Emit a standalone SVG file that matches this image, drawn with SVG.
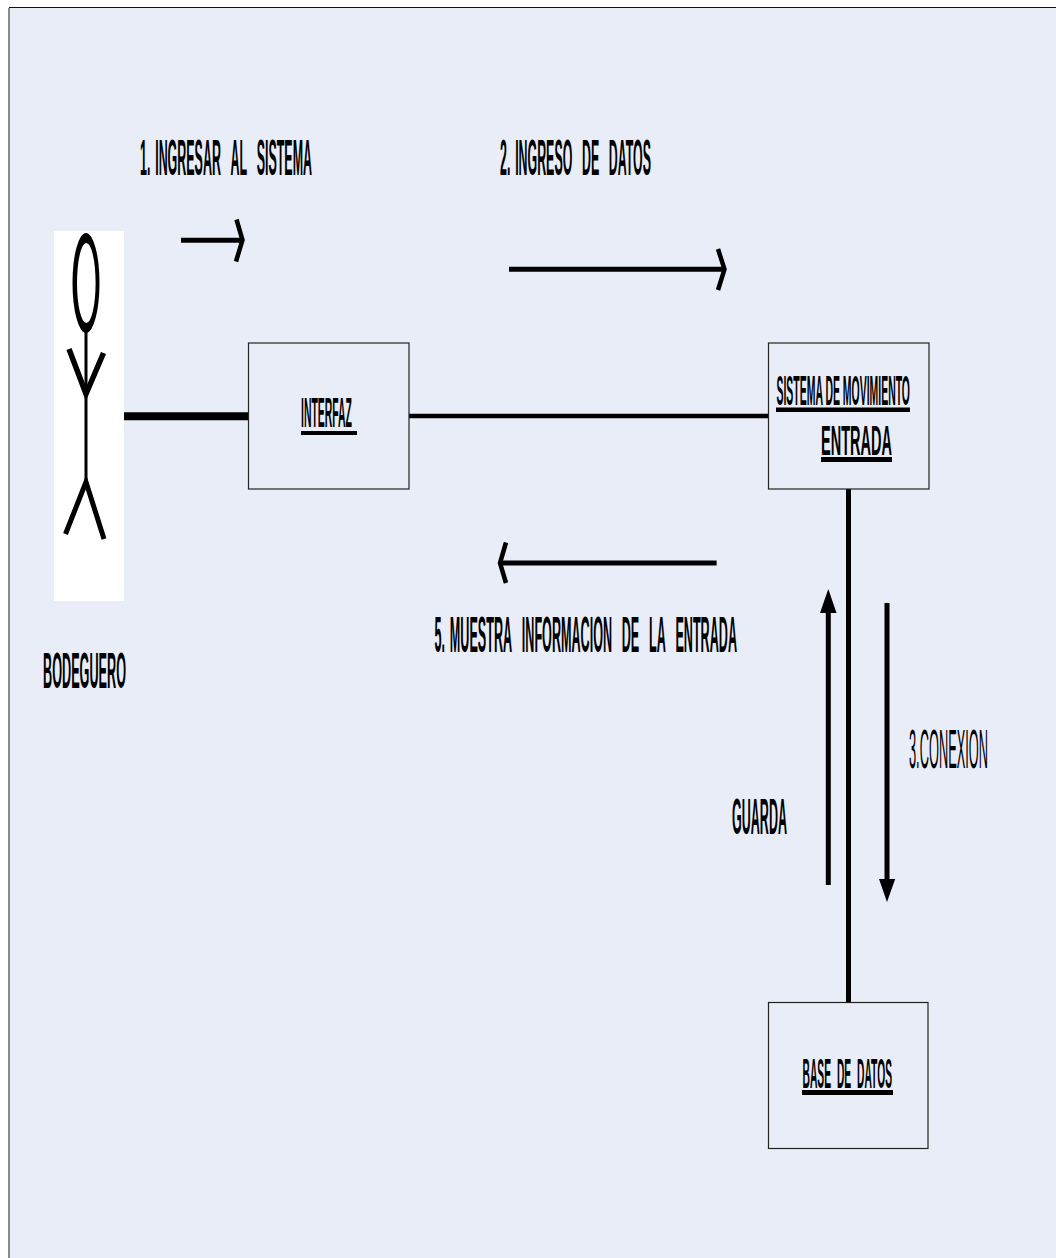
<svg xmlns="http://www.w3.org/2000/svg" width="1056" height="1258" viewBox="0 0 1056 1258">
<style>
text{font-family:"Liberation Sans",Arial,sans-serif;font-weight:700;fill:#000;white-space:pre}
.gap{word-spacing:1.4px}
.box{fill:#e8edf8;stroke:#222;stroke-width:1.2}
.ln{stroke:#000;fill:none}
.chev{stroke:#000;fill:none;stroke-width:4.5;stroke-linejoin:miter}
</style>
<rect x="0" y="0" width="1056" height="1258" fill="#fff"/>
<path d="M9 1258V7.5H1056V1258Z" fill="#e8edf8"/>
<path d="M9 1258V8" stroke="#666" stroke-width="1.5" fill="none"/>
<path d="M9 7.5H1056" stroke="#111" stroke-width="1" fill="none"/>
<g id="connectors">
<path class="ln" stroke-width="8" d="M124 416.3H249"/>
<path class="ln" stroke-width="4.6" d="M409 416H769"/>
<path class="ln" stroke-width="5" d="M848.5 489V1002"/>
<path class="ln" stroke-width="5" d="M181 240.3H241"/>
<path class="chev" d="M236.500 219.500L242.500 240L236 261.500"/>
<path class="ln" stroke-width="5" d="M509 269.300H724"/>
<path class="chev" d="M718 249L724.500 269.300L718 290"/>
<path class="ln" stroke-width="5" d="M716.600 563H501"/>
<path class="chev" d="M506 542.500L500 563L506 583"/>
<path class="ln" stroke-width="5" d="M828.300 885V610"/>
<path fill="#000" d="M828.300 589L836.500 613H820Z"/>
<path class="ln" stroke-width="5" d="M887 603V882"/>
<path fill="#000" d="M887 902L879 879H895.200Z"/>
</g>
<g id="actor">
<rect x="54" y="231" width="70" height="370" fill="#fff"/>
<path fill="#000" fill-rule="evenodd" d="M72.500 283A13.500 50 0 1 1 99.500 283A13.500 50 0 1 1 72.500 283ZM77 283A9.300 40 0 1 0 95.600 283A9.300 40 0 1 0 77 283Z"/>
<path class="ln" stroke-width="3" d="M86 330V482"/>
<path class="ln" stroke-width="5.500" d="M69 349L86 394L103.500 353"/>
<path class="ln" stroke-width="5" d="M65.500 534L86 482L104 539"/>
</g>
<g id="bodeguero"><text font-size="12.550" transform="translate(43 688) scale(1 3.98)" textLength="83" lengthAdjust="spacingAndGlyphs">BODEGUERO</text></g>
<g id="interfaz">
<rect class="box" x="248.500" y="343" width="160.500" height="146"/>
<text font-size="10.300" transform="translate(301 427) scale(1 4.08)" textLength="51" lengthAdjust="spacingAndGlyphs">INTERFAZ</text>
<rect x="301" y="431" width="56" height="4"/>
</g>
<g id="sistema">
<rect class="box" x="768.500" y="343" width="160.500" height="146"/>
<text font-size="10.180" transform="translate(776.500 405) scale(1 4.13)" textLength="133.500" lengthAdjust="spacingAndGlyphs">SISTEMA DE MOVIMIENTO</text>
<rect x="776" y="407.500" width="134" height="4.500"/>
<text font-size="14.500" transform="translate(821 455) scale(1 2.9)" textLength="71" lengthAdjust="spacingAndGlyphs">ENTRADA</text>
<rect x="821" y="457" width="71" height="5"/>
</g>
<g id="base">
<rect class="box" x="768.500" y="1002.500" width="159.500" height="146"/>
<text font-size="10.100" transform="translate(802.500 1088) scale(1 4.16)" textLength="89.500" lengthAdjust="spacingAndGlyphs" style="word-spacing:3px">BASE DE DATOS</text>
<rect x="802" y="1090" width="91" height="5"/>
</g>
<g id="labels">
<text font-size="13" transform="translate(140 175) scale(1 3.85)" textLength="172" lengthAdjust="spacingAndGlyphs">1.<tspan class="gap"> </tspan>INGRESAR<tspan class="gap">  </tspan>AL<tspan class="gap">  </tspan>SISTEMA</text>
<text font-size="12.500" transform="translate(500 175) scale(1 4)" textLength="151" lengthAdjust="spacingAndGlyphs">2.<tspan class="gap"> </tspan>INGRESO<tspan class="gap">  </tspan>DE<tspan class="gap">  </tspan>DATOS</text>
<text font-size="13" transform="translate(434.500 651.500) scale(1 3.85)" textLength="302.500" lengthAdjust="spacingAndGlyphs">5.<tspan class="gap"> </tspan>MUESTRA<tspan class="gap">  </tspan>INFORMACION<tspan class="gap">  </tspan>DE<tspan class="gap">  </tspan>LA<tspan class="gap">  </tspan>ENTRADA</text>
<text font-size="12.500" transform="translate(732 834) scale(1 4)" textLength="55" lengthAdjust="spacingAndGlyphs">GUARDA</text>
<text font-size="13.200" transform="translate(909 768) scale(1 4.17)" textLength="79" lengthAdjust="spacingAndGlyphs" style="font-weight:400">3.CONEXION</text>
</g>
</svg>
